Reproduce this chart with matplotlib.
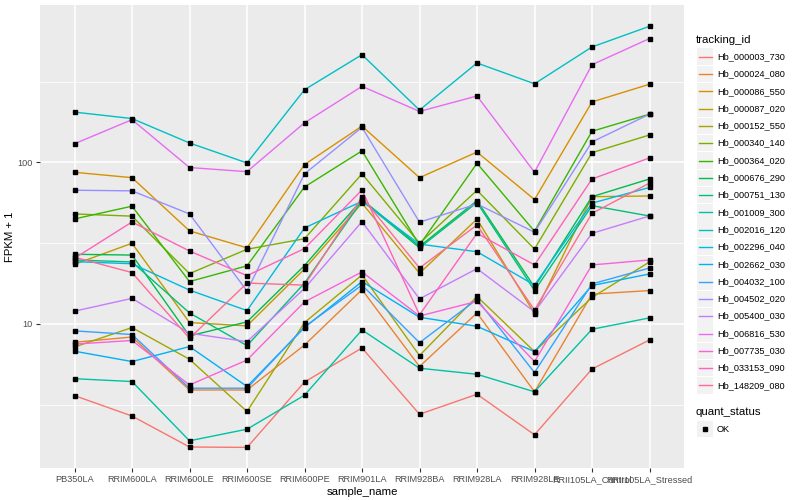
import matplotlib
matplotlib.use("Agg")
import matplotlib.pyplot as plt
from matplotlib.ticker import FixedLocator, NullFormatter
from matplotlib.patches import Rectangle
from matplotlib.lines import Line2D

plt.rcParams['font.family'] = ['Liberation Sans', 'DejaVu Sans']

samples = ["PB350LA", "RRIM600LA", "RRIM600LE", "RRIM600SE", "RRIM600PE",
           "RRIM901LA", "RRIM928BA", "RRIM928LA", "RRIM928LE",
           "RRII105LA_Control", "RRII105LA_Stressed"]

tracking_ids = ["Hb_000003_730", "Hb_000024_080", "Hb_000086_550", "Hb_000087_020",
                "Hb_000152_550", "Hb_000340_140", "Hb_000364_020", "Hb_000676_290",
                "Hb_000751_130", "Hb_001009_300", "Hb_002016_120", "Hb_002296_040",
                "Hb_002662_030", "Hb_004032_100", "Hb_004502_020", "Hb_005400_030",
                "Hb_006816_530", "Hb_007735_030", "Hb_033153_090", "Hb_148209_080"]

# FPKM + 1 per sample, one list per gene
hb_000003_730 = [3.6, 2.69, 1.73, 1.72, 4.37, 7.1, 2.76, 3.67, 2.06, 5.26, 7.96]
hb_000024_080 = [7.7, 8.3, 3.9, 3.9, 7.4, 16.3, 5.45, 11.7, 3.8, 15.3, 16.1]
hb_000086_550 = [86.9, 80.5, 37.7, 29.6, 97, 168, 80.5, 116, 58.9, 237, 305]
hb_000087_020 = [23.4, 31.6, 10.2, 9.73, 21.9, 56, 20.6, 44.6, 11.6, 61.4, 62]
hb_000152_550 = [7.2, 9.5, 6.04, 2.87, 10.2, 20.1, 6.37, 14.8, 6.74, 14.6, 24.2]
hb_000340_140 = [48, 46.5, 20.5, 29, 33.7, 85, 31.6, 67.2, 29.1, 115, 148]
hb_000364_020 = [44.7, 53.6, 18.3, 22.9, 70.5, 118, 30.8, 98.8, 37.5, 156, 199]
hb_000676_290 = [27.0, 26.7, 8.43, 10.3, 23, 59, 30.2, 58, 16.9, 61.4, 79]
hb_000751_130 = [24.9, 24.2, 11.7, 7.34, 17.9, 58, 29.6, 56.5, 16.1, 54, 46.6]
hb_001009_300 = [4.58, 4.4, 1.89, 2.23, 3.62, 9.18, 5.32, 4.88, 3.8, 9.27, 10.9]
hb_002016_120 = [205, 187, 132, 99.3, 282, 465, 211, 413, 307, 519, 697]
hb_002296_040 = [24.3, 23.6, 16.2, 12.1, 39.3, 57.5, 31.2, 28, 17.4, 56, 70]
hb_002662_030 = [6.78, 5.85, 7.24, 4.1, 9.5, 18.3, 11.0, 9.67, 6.74, 17.3, 20.4]
hb_004032_100 = [9.06, 8.6, 4.0, 4.0, 9.6, 17.4, 7.66, 14.2, 5.0, 17.7, 22.2]
hb_004502_020 = [67.3, 66.7, 48, 16, 85, 165, 42.7, 55.3, 37, 134, 199]
hb_005400_030 = [12.0, 14.4, 8.76, 7.77, 16.6, 43, 14.3, 22, 11.9, 36.4, 46.6]
hb_006816_530 = [130.6, 184, 93, 87.7, 176, 296, 207, 258, 87, 403, 585]
hb_007735_030 = [7.5, 7.9, 4.19, 5.98, 13.7, 21.0, 11.2, 13.8, 5.85, 23.2, 24.9]
hb_033153_090 = [25.5, 42.8, 28.3, 19.9, 29.3, 67.6, 11.4, 36.4, 23.2, 79, 106.7]
hb_148209_080 = [25.9, 20.8, 8.15, 17.9, 17.4, 61, 22.2, 41, 12.2, 48.4, 74.5]

series = [hb_000003_730, hb_000024_080, hb_000086_550, hb_000087_020, hb_000152_550,
          hb_000340_140, hb_000364_020, hb_000676_290, hb_000751_130, hb_001009_300,
          hb_002016_120, hb_002296_040, hb_002662_030, hb_004032_100, hb_004502_020,
          hb_005400_030, hb_006816_530, hb_007735_030, hb_033153_090, hb_148209_080]

# ggplot default hue palette for 20 levels
colors = ["#F8766D", "#EA8331", "#D89000", "#C09B00", "#A3A500", "#7CAE00", "#39B600",
          "#00BB4E", "#00BF7D", "#00C1A3", "#00BFC4", "#00BAE0", "#00B0F6", "#35A2FF",
          "#9590FF", "#C77CFF", "#E76BF3", "#FA62DB", "#FF62BC", "#FF6C91"]

W, H = 800, 500
fig = plt.figure(figsize=(8, 5), dpi=100)
ax = fig.add_axes([40 / W, 1 - 468 / H, (684 - 40) / W, (468 - 5) / H])
ax.set_facecolor("#EBEBEB")

x = list(range(len(samples)))
for vals, c in zip(series, colors):
    ax.plot(x, vals, color=c, lw=1.0, zorder=3)
for vals in series:
    ax.plot(x, vals, ls="none", marker="s", ms=2.8, color="black", zorder=4)

ax.set_yscale("log")
ax.set_ylim(10 ** 0.108, 10 ** 2.975)
ax.set_xlim(-0.6, len(samples) - 0.4)

ax.yaxis.set_major_locator(FixedLocator([10, 100]))
ax.set_yticklabels(["10", "100"])
ax.yaxis.set_minor_locator(FixedLocator([10 ** 0.5, 10 ** 1.5, 10 ** 2.5]))
ax.yaxis.set_minor_formatter(NullFormatter())
ax.set_xticks(x)
ax.set_xticklabels(samples)

ax.grid(which="major", color="white", lw=1.1, zorder=0)
ax.grid(which="minor", axis="y", color="white", lw=0.55, zorder=0)
ax.set_axisbelow(True)
for s in ax.spines.values():
    s.set_visible(False)
ax.tick_params(which="major", length=3, width=0.8, color="#333333",
               labelsize=6.6, labelcolor="#4D4D4D", pad=2)
ax.tick_params(which="minor", length=0)

ax.set_xlabel("sample_name", fontsize=8.2, labelpad=2)
ax.set_ylabel("FPKM + 1", fontsize=8.2, labelpad=2)

# legend drawn by hand, ggplot style
def fx(px):
    return px / W

def fy(py):
    return 1 - py / H

fig.text(fx(696), fy(40), "tracking_id", fontsize=8.2, va="center", ha="left")
for i, (name, c) in enumerate(zip(tracking_ids, colors)):
    yc = 56.7 + i * 17.3
    fig.patches.append(Rectangle((fx(697), fy(yc + 8.3)), 16 / W, 16.6 / H,
                                 transform=fig.transFigure, facecolor="#F2F2F2",
                                 edgecolor="none"))
    fig.lines.append(Line2D([fx(698.5), fx(711.5)], [fy(yc), fy(yc)],
                            transform=fig.transFigure, color=c, lw=1.0))
    fig.text(fx(717), fy(yc), name, fontsize=6.6, va="center", ha="left")

fig.text(fx(696), fy(412), "quant_status", fontsize=8.2, va="center", ha="left")
fig.patches.append(Rectangle((fx(697), fy(429 + 8.3)), 16 / W, 16.6 / H,
                             transform=fig.transFigure, facecolor="#F2F2F2",
                             edgecolor="none"))
fig.lines.append(Line2D([fx(705)], [fy(429)], transform=fig.transFigure,
                        marker="s", ms=2.8, color="black", ls="none"))
fig.text(fx(717), fy(429), "OK", fontsize=6.6, va="center", ha="left")

fig.savefig("out.png", dpi=100, facecolor="white")
